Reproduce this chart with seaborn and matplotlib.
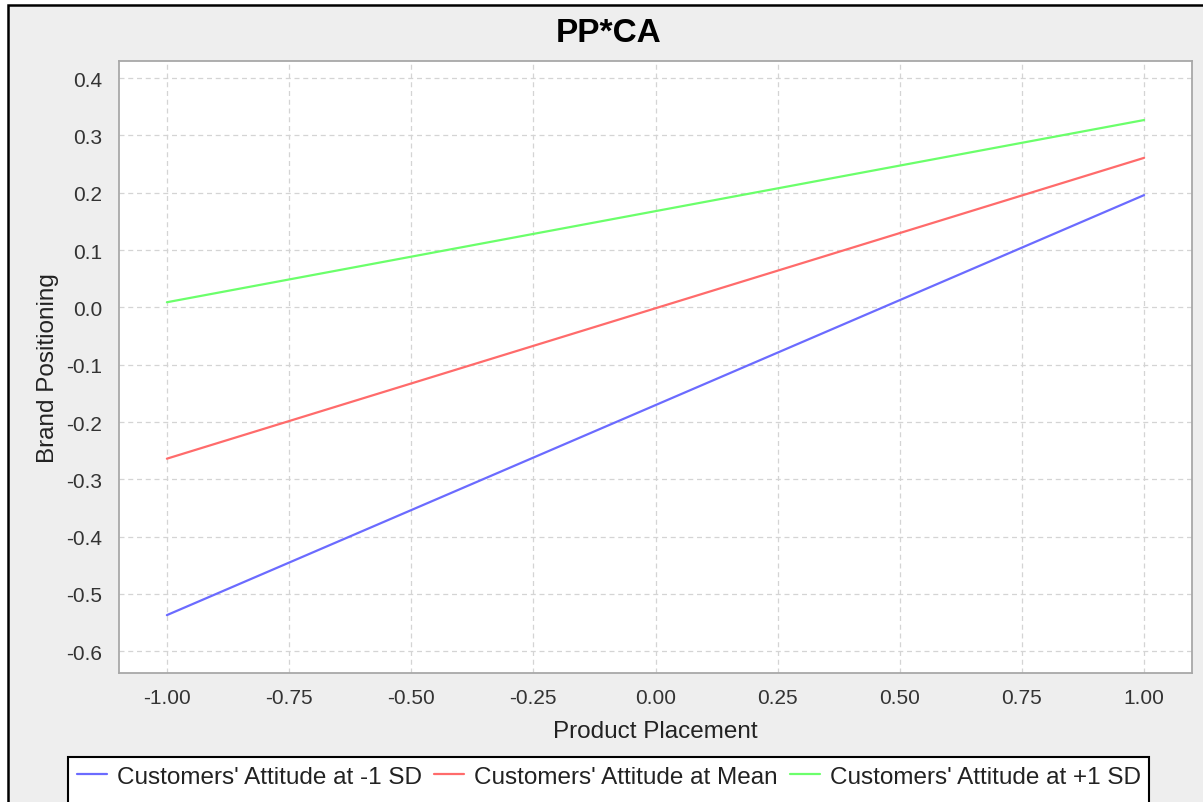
import numpy as np
import pandas as pd
import seaborn as sns
import matplotlib.pyplot as plt
from matplotlib.patches import Rectangle
from matplotlib.ticker import FormatStrFormatter

# values
pp_x = [-1.0, 1.0]
ca_low = [-0.537, 0.196]
ca_mean = [-0.264, 0.261]
ca_high = [0.009, 0.327]
series_names = ["Customers' Attitude at -1 SD", "Customers' Attitude at Mean", "Customers' Attitude at +1 SD"]
series_colors = ["#6b6bff", "#ff6b6b", "#6bff6b"]
x_ticks = [-1.0, -0.75, -0.5, -0.25, 0.0, 0.25, 0.5, 0.75, 1.0]
y_ticks = [-0.6, -0.5, -0.4, -0.3, -0.2, -0.1, 0.0, 0.1, 0.2, 0.3, 0.4]

df = pd.DataFrame({
    'Product Placement': pp_x * 3,
    'Brand Positioning': ca_low + ca_mean + ca_high,
    'series': [s for s in series_names for _ in pp_x],
})

sns.set_style('white')
plt.rcParams['font.family'] = ['Liberation Sans', 'DejaVu Sans']

fig = plt.figure(figsize=(12.03, 8.03), dpi=100, facecolor='white')
W, H = 1203, 803

# panel background with black frame (top/left visible only)
fig.patches.append(Rectangle((8 / W, -0.1), 1.2, 1 - 6 / H + 0.1, transform=fig.transFigure,
                             facecolor='#eeeeee', edgecolor='black', linewidth=1.8, zorder=-10))

ax = fig.add_axes([119 / W, 1 - 674 / H, (1192 - 119) / W, (674 - 62) / H])
ax.set_facecolor('white')

sns.lineplot(data=df, x='Product Placement', y='Brand Positioning', hue='series',
             palette=dict(zip(series_names, series_colors)), linewidth=1.6, ax=ax, legend=True)

ax.set_xlim(-1.098, 1.098)
ax.set_ylim(-0.638, 0.43)
ax.set_xticks(x_ticks)
ax.set_yticks(y_ticks)
ax.xaxis.set_major_formatter(FormatStrFormatter('%.2f'))
ax.yaxis.set_major_formatter(FormatStrFormatter('%.1f'))
ax.grid(True, color='#d4d4d4', linestyle=(0, (4, 3)), linewidth=0.9)
for sp in ax.spines.values():
    sp.set_color('#a8a8a8')
    sp.set_linewidth(1.3)
ax.tick_params(axis='both', length=4, width=1, color='#a8a8a8', labelsize=15,
               labelcolor='#333333', direction='out')
ax.tick_params(axis='y', pad=8)
ax.tick_params(axis='x', pad=7)
ax.set_xlabel('Product Placement', fontsize=17.5, color='#222222', labelpad=9)
ax.set_ylabel('Brand Positioning', fontsize=17.5, color='#222222', labelpad=5.5)

fig.text(609 / W, 1 - 33 / H, 'PP*CA', ha='center', va='center', fontsize=24,
         fontweight='bold', color='black')

handles, labels = ax.get_legend_handles_labels()
ax.get_legend().remove()
leg = fig.legend(handles, labels, loc='upper left', bbox_to_anchor=(68 / W, 1 - 758 / H),
                 bbox_transform=fig.transFigure, ncol=3, fontsize=17.5, frameon=False,
                 handlelength=1.25, handletextpad=0.4, columnspacing=0.5, borderpad=0.35,
                 borderaxespad=0)
for t in leg.get_texts():
    t.set_color('#222222')

# legend box runs off the bottom edge, as in the source
fig.canvas.draw()
bb = leg.get_window_extent()
fig.patches.append(Rectangle((bb.x0, -20), bb.width, bb.y1 + 20, transform=None,
                             facecolor='white', edgecolor='black', linewidth=1.5, zorder=-5))

fig.savefig('out.png', dpi=100, facecolor=fig.get_facecolor())
